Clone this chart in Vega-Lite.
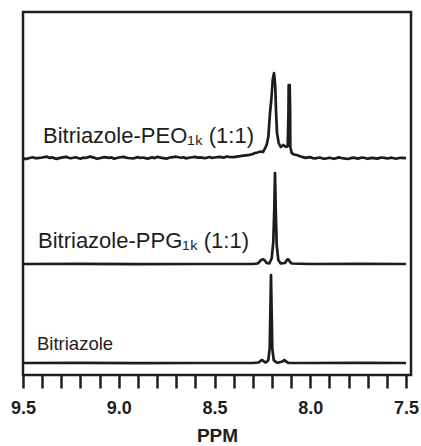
{
  "$schema": "https://vega.github.io/schema/vega-lite/v6.json",
  "width": 388,
  "height": 363,
  "autosize": "none",
  "padding": {"left": 23, "top": 12, "right": 10, "bottom": 71},
  "background": "white",
  "config": {
    "view": {"stroke": "#1e1e1e", "strokeWidth": 2.5},
    "font": "Liberation Sans"
  },
  "encoding": {
    "x": {
      "field": "ppm",
      "type": "quantitative",
      "title": "PPM",
      "scale": {"domain": [7.4739, 9.5], "reverse": true, "nice": false, "zero": false},
      "axis": {
        "values": [9.5, 9.4, 9.3, 9.2, 9.1, 9.0, 8.9, 8.8, 8.7, 8.6, 8.5, 8.4, 8.3, 8.2, 8.1, 8.0, 7.9, 7.8, 7.7, 7.6, 7.5],
        "labelExpr": "abs(datum.value*2 - round(datum.value*2)) < 0.001 ? format(datum.value, '.1f') : ''",
        "grid": false,
        "domain": false,
        "tickSize": 13,
        "tickWidth": 2.5,
        "tickColor": "#1e1e1e",
        "labelFont": "Liberation Sans",
        "labelFontWeight": "bold",
        "labelFontSize": 18,
        "labelColor": "#1e1e1e",
        "labelPadding": 11,
        "labelOverlap": false,
        "labelFlush": false,
        "titleFont": "Liberation Sans",
        "titleFontWeight": "bold",
        "titleFontSize": 19,
        "titleColor": "#1e1e1e",
        "titlePadding": 9,
        "encode": {
          "ticks": {
            "update": {
              "y2": {"signal": "abs(datum.value*2 - round(datum.value*2)) < 0.001 ? 13 : 8"}
            }
          }
        }
      }
    },
    "y": {
      "field": "val",
      "type": "quantitative",
      "scale": {"domain": [0, 363], "nice": false, "zero": false},
      "axis": null
    }
  },
  "layer": [
    {
      "data": {
        "values": [
          {"series": "Bitriazole", "ppm": 9.5, "val": 12},
          {"series": "Bitriazole", "ppm": 9.2, "val": 12.2},
          {"series": "Bitriazole", "ppm": 8.9, "val": 11.9},
          {"series": "Bitriazole", "ppm": 8.6, "val": 12},
          {"series": "Bitriazole", "ppm": 8.3, "val": 12},
          {"series": "Bitriazole", "ppm": 8.27, "val": 12.5},
          {"series": "Bitriazole", "ppm": 8.26, "val": 14},
          {"series": "Bitriazole", "ppm": 8.2533, "val": 15},
          {"series": "Bitriazole", "ppm": 8.245, "val": 14},
          {"series": "Bitriazole", "ppm": 8.235, "val": 12.5},
          {"series": "Bitriazole", "ppm": 8.225, "val": 13.5},
          {"series": "Bitriazole", "ppm": 8.219, "val": 15},
          {"series": "Bitriazole", "ppm": 8.2117, "val": 26.7},
          {"series": "Bitriazole", "ppm": 8.2086, "val": 60},
          {"series": "Bitriazole", "ppm": 8.205, "val": 100},
          {"series": "Bitriazole", "ppm": 8.2013, "val": 60},
          {"series": "Bitriazole", "ppm": 8.1982, "val": 26.7},
          {"series": "Bitriazole", "ppm": 8.1909, "val": 15},
          {"series": "Bitriazole", "ppm": 8.18, "val": 13},
          {"series": "Bitriazole", "ppm": 8.17, "val": 12.2},
          {"series": "Bitriazole", "ppm": 8.145, "val": 13.5},
          {"series": "Bitriazole", "ppm": 8.1355, "val": 15},
          {"series": "Bitriazole", "ppm": 8.127, "val": 13.5},
          {"series": "Bitriazole", "ppm": 8.115, "val": 12.2},
          {"series": "Bitriazole", "ppm": 8.0, "val": 12},
          {"series": "Bitriazole", "ppm": 7.75, "val": 12.1},
          {"series": "Bitriazole", "ppm": 7.5, "val": 12},

          {"series": "PPG", "ppm": 9.5, "val": 111},
          {"series": "PPG", "ppm": 9.2, "val": 111.2},
          {"series": "PPG", "ppm": 8.9, "val": 110.9},
          {"series": "PPG", "ppm": 8.6, "val": 111},
          {"series": "PPG", "ppm": 8.3, "val": 111},
          {"series": "PPG", "ppm": 8.275, "val": 111.5},
          {"series": "PPG", "ppm": 8.2663, "val": 113},
          {"series": "PPG", "ppm": 8.255, "val": 115.2},
          {"series": "PPG", "ppm": 8.2452, "val": 115.7},
          {"series": "PPG", "ppm": 8.235, "val": 114},
          {"series": "PPG", "ppm": 8.2274, "val": 112},
          {"series": "PPG", "ppm": 8.2138, "val": 111.5},
          {"series": "PPG", "ppm": 8.2013, "val": 116.7},
          {"series": "PPG", "ppm": 8.193, "val": 133},
          {"series": "PPG", "ppm": 8.1877, "val": 166.7},
          {"series": "PPG", "ppm": 8.1841, "val": 202},
          {"series": "PPG", "ppm": 8.1804, "val": 166.7},
          {"series": "PPG", "ppm": 8.1752, "val": 130},
          {"series": "PPG", "ppm": 8.1668, "val": 115},
          {"series": "PPG", "ppm": 8.1543, "val": 111.5},
          {"series": "PPG", "ppm": 8.1319, "val": 112},
          {"series": "PPG", "ppm": 8.122, "val": 115},
          {"series": "PPG", "ppm": 8.1146, "val": 115.7},
          {"series": "PPG", "ppm": 8.105, "val": 113},
          {"series": "PPG", "ppm": 8.0969, "val": 111.5},
          {"series": "PPG", "ppm": 8.0, "val": 111},
          {"series": "PPG", "ppm": 7.75, "val": 111.1},
          {"series": "PPG", "ppm": 7.5, "val": 111},

          {"series": "PEO", "ppm": 9.5, "val": 217},
          {"series": "PEO", "ppm": 9.4875, "val": 215.9},
          {"series": "PEO", "ppm": 9.475, "val": 216.5},
          {"series": "PEO", "ppm": 9.45, "val": 217.8},
          {"series": "PEO", "ppm": 9.4375, "val": 216.9},
          {"series": "PEO", "ppm": 9.425, "val": 216.8},
          {"series": "PEO", "ppm": 9.4, "val": 217.5},
          {"series": "PEO", "ppm": 9.375, "val": 218.4},
          {"series": "PEO", "ppm": 9.3625, "val": 217.1},
          {"series": "PEO", "ppm": 9.35, "val": 217.6},
          {"series": "PEO", "ppm": 9.325, "val": 216.1},
          {"series": "PEO", "ppm": 9.3, "val": 217.4},
          {"series": "PEO", "ppm": 9.275, "val": 218.2},
          {"series": "PEO", "ppm": 9.2625, "val": 217.2},
          {"series": "PEO", "ppm": 9.25, "val": 216.7},
          {"series": "PEO", "ppm": 9.225, "val": 217.8},
          {"series": "PEO", "ppm": 9.2, "val": 216.3},
          {"series": "PEO", "ppm": 9.1875, "val": 217.3},
          {"series": "PEO", "ppm": 9.175, "val": 217},
          {"series": "PEO", "ppm": 9.15, "val": 218.4},
          {"series": "PEO", "ppm": 9.125, "val": 217.1},
          {"series": "PEO", "ppm": 9.1125, "val": 216.2},
          {"series": "PEO", "ppm": 9.1, "val": 216.8},
          {"series": "PEO", "ppm": 9.075, "val": 217.9},
          {"series": "PEO", "ppm": 9.05, "val": 217.1},
          {"series": "PEO", "ppm": 9.0375, "val": 217.6},
          {"series": "PEO", "ppm": 9.025, "val": 216.3},
          {"series": "PEO", "ppm": 9.0, "val": 217.5},
          {"series": "PEO", "ppm": 8.975, "val": 218.2},
          {"series": "PEO", "ppm": 8.9625, "val": 217.4},
          {"series": "PEO", "ppm": 8.95, "val": 217},
          {"series": "PEO", "ppm": 8.925, "val": 216.5},
          {"series": "PEO", "ppm": 8.9, "val": 217.9},
          {"series": "PEO", "ppm": 8.8875, "val": 217},
          {"series": "PEO", "ppm": 8.875, "val": 217.5},
          {"series": "PEO", "ppm": 8.85, "val": 216.4},
          {"series": "PEO", "ppm": 8.825, "val": 217.6},
          {"series": "PEO", "ppm": 8.8125, "val": 216.9},
          {"series": "PEO", "ppm": 8.8, "val": 218.1},
          {"series": "PEO", "ppm": 8.775, "val": 217.1},
          {"series": "PEO", "ppm": 8.75, "val": 216.3},
          {"series": "PEO", "ppm": 8.7375, "val": 217.2},
          {"series": "PEO", "ppm": 8.725, "val": 217.7},
          {"series": "PEO", "ppm": 8.7, "val": 218.3},
          {"series": "PEO", "ppm": 8.675, "val": 217.2},
          {"series": "PEO", "ppm": 8.6625, "val": 217.8},
          {"series": "PEO", "ppm": 8.65, "val": 216.7},
          {"series": "PEO", "ppm": 8.625, "val": 217.5},
          {"series": "PEO", "ppm": 8.6, "val": 218.1},
          {"series": "PEO", "ppm": 8.5875, "val": 217.3},
          {"series": "PEO", "ppm": 8.575, "val": 217.6},
          {"series": "PEO", "ppm": 8.55, "val": 216.8},
          {"series": "PEO", "ppm": 8.525, "val": 218},
          {"series": "PEO", "ppm": 8.5125, "val": 217.1},
          {"series": "PEO", "ppm": 8.5, "val": 217.5},
          {"series": "PEO", "ppm": 8.475, "val": 218.2},
          {"series": "PEO", "ppm": 8.45, "val": 217.4},
          {"series": "PEO", "ppm": 8.4375, "val": 218.5},
          {"series": "PEO", "ppm": 8.425, "val": 218.1},
          {"series": "PEO", "ppm": 8.4, "val": 217.9},
          {"series": "PEO", "ppm": 8.375, "val": 218.7},
          {"series": "PEO", "ppm": 8.35, "val": 219.3},
          {"series": "PEO", "ppm": 8.325, "val": 219.8},
          {"series": "PEO", "ppm": 8.3, "val": 221},
          {"series": "PEO", "ppm": 8.2885, "val": 222},
          {"series": "PEO", "ppm": 8.275, "val": 222.5},
          {"series": "PEO", "ppm": 8.26, "val": 223.5},
          {"series": "PEO", "ppm": 8.2467, "val": 223},
          {"series": "PEO", "ppm": 8.2363, "val": 226.7},
          {"series": "PEO", "ppm": 8.228, "val": 230},
          {"series": "PEO", "ppm": 8.219, "val": 238},
          {"series": "PEO", "ppm": 8.2102, "val": 262},
          {"series": "PEO", "ppm": 8.2034, "val": 275},
          {"series": "PEO", "ppm": 8.196, "val": 295},
          {"series": "PEO", "ppm": 8.1893, "val": 302},
          {"series": "PEO", "ppm": 8.1825, "val": 288},
          {"series": "PEO", "ppm": 8.1789, "val": 265},
          {"series": "PEO", "ppm": 8.1736, "val": 242},
          {"series": "PEO", "ppm": 8.1648, "val": 232},
          {"series": "PEO", "ppm": 8.1543, "val": 228},
          {"series": "PEO", "ppm": 8.1407, "val": 230},
          {"series": "PEO", "ppm": 8.1266, "val": 228},
          {"series": "PEO", "ppm": 8.1178, "val": 229},
          {"series": "PEO", "ppm": 8.114, "val": 260},
          {"series": "PEO", "ppm": 8.1126, "val": 290},
          {"series": "PEO", "ppm": 8.1073, "val": 290},
          {"series": "PEO", "ppm": 8.105, "val": 262},
          {"series": "PEO", "ppm": 8.1042, "val": 228},
          {"series": "PEO", "ppm": 8.0969, "val": 222},
          {"series": "PEO", "ppm": 8.085, "val": 220.5},
          {"series": "PEO", "ppm": 8.0708, "val": 220},
          {"series": "PEO", "ppm": 8.05, "val": 218.5},
          {"series": "PEO", "ppm": 8.0375, "val": 217.9},
          {"series": "PEO", "ppm": 8.025, "val": 217.1},
          {"series": "PEO", "ppm": 8.0, "val": 217.9},
          {"series": "PEO", "ppm": 7.9875, "val": 216.9},
          {"series": "PEO", "ppm": 7.975, "val": 216.6},
          {"series": "PEO", "ppm": 7.95, "val": 217.5},
          {"series": "PEO", "ppm": 7.9375, "val": 216.7},
          {"series": "PEO", "ppm": 7.925, "val": 216.3},
          {"series": "PEO", "ppm": 7.9, "val": 217.3},
          {"series": "PEO", "ppm": 7.8875, "val": 216.8},
          {"series": "PEO", "ppm": 7.875, "val": 216.2},
          {"series": "PEO", "ppm": 7.85, "val": 217.6},
          {"series": "PEO", "ppm": 7.8375, "val": 217},
          {"series": "PEO", "ppm": 7.825, "val": 216.7},
          {"series": "PEO", "ppm": 7.8, "val": 216},
          {"series": "PEO", "ppm": 7.7875, "val": 216.9},
          {"series": "PEO", "ppm": 7.775, "val": 217.4},
          {"series": "PEO", "ppm": 7.75, "val": 216.4},
          {"series": "PEO", "ppm": 7.7375, "val": 217.2},
          {"series": "PEO", "ppm": 7.725, "val": 217.5},
          {"series": "PEO", "ppm": 7.7, "val": 216.2},
          {"series": "PEO", "ppm": 7.6875, "val": 216.9},
          {"series": "PEO", "ppm": 7.675, "val": 217.1},
          {"series": "PEO", "ppm": 7.65, "val": 216.4},
          {"series": "PEO", "ppm": 7.6375, "val": 217.1},
          {"series": "PEO", "ppm": 7.625, "val": 217.5},
          {"series": "PEO", "ppm": 7.6, "val": 216.6},
          {"series": "PEO", "ppm": 7.5875, "val": 216.9},
          {"series": "PEO", "ppm": 7.575, "val": 217.3},
          {"series": "PEO", "ppm": 7.55, "val": 216.3},
          {"series": "PEO", "ppm": 7.5375, "val": 217},
          {"series": "PEO", "ppm": 7.525, "val": 217.2},
          {"series": "PEO", "ppm": 7.5, "val": 216.8}
        ]
      },
      "mark": {"type": "line", "color": "#1c1c1c", "strokeWidth": 2.7, "strokeJoin": "round", "clip": true},
      "encoding": {
        "detail": {"field": "series", "type": "nominal"}
      }
    },
    {
      "data": {
        "values": [
          {"label": "Bitriazole-PEO₁ₖ (1:1)", "ppm": 9.3956, "val": 232},
          {"label": "Bitriazole-PPG₁ₖ (1:1)", "ppm": 9.4217, "val": 127}
        ]
      },
      "mark": {"type": "text", "align": "left", "baseline": "alphabetic", "font": "Liberation Sans", "fontSize": 22, "color": "#1e1e1e"},
      "encoding": {
        "text": {"field": "label", "type": "nominal"}
      }
    },
    {
      "data": {
        "values": [
          {"label": "Bitriazole", "ppm": 9.427, "val": 25}
        ]
      },
      "mark": {"type": "text", "align": "left", "baseline": "alphabetic", "font": "Liberation Sans", "fontSize": 18.5, "color": "#1e1e1e"},
      "encoding": {
        "text": {"field": "label", "type": "nominal"}
      }
    }
  ]
}
